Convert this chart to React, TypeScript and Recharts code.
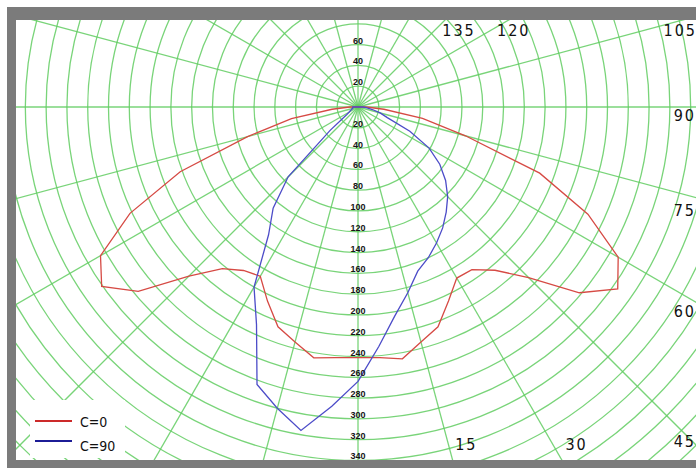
import React from 'react';
import { RadarChart, Radar, PolarGrid, PolarAngleAxis, PolarRadiusAxis, Legend } from 'recharts';

// gamma in degrees, 0 = straight down, 90 = horizontal
const gammaSteps = [0, 5, 10, 15, 20, 25, 30, 35, 40, 45, 50, 55, 60, 65, 70, 75, 80, 85, 90];

// candela values, per gamma step
const c0 = [241, 242, 246, 234, 225, 206, 190, 191, 205, 232, 278, 305, 289, 244, 186, 107, 63, 25, 8];
const c180 = [241, 242, 245, 234, 225, 206, 188, 192, 203, 230, 276, 301, 286, 242, 182, 110, 65, 25, 8];
const c90 = [264, 231, 204, 185, 168, 160, 151, 142, 132, 122, 110, 96, 79, 55, 30, 22, 14, 8, 5];
const c270 = [264, 289, 316, 300, 284, 231, 200, 150, 127, 95, 35, 14, 10, 8, 6, 6, 5, 5, 5];

const radiusTicks = [0, 20, 40, 60, 80, 100, 120, 140, 160, 180, 200, 220, 240, 260, 280, 300, 320, 340, 360, 380, 400, 420, 440, 460, 480];
const upTicks = [20, 40, 60];
const gridGammas = [0, 15, 30, 45, 60, 75, 90, 105, 120, 135, 150, 165, 180, 195, 210, 225, 240, 255, 270, 285, 300, 315, 330, 345];
const angleLabels = [15, 30, 45, 60, 75, 90, 105, 120, 135];

const legendItems = [
  { name: 'C=0', color: '#cc2a2a' },
  { name: 'C=90', color: '#1c1c96' },
];

// full turn in 5 degree steps; right half C0/C90, left half C180/C270
const data = Array.from({ length: 72 }, (_, i) => {
  const g = i * 5;
  let red = 0;
  let blue = 0;
  if (i < gammaSteps.length) {
    red = c0[i];
    blue = c90[i];
  } else if (i >= 72 - (gammaSteps.length - 1)) {
    red = c180[72 - i];
    blue = c270[72 - i];
  }
  return { gamma: g, red, blue };
});

const W = 680;
const H = 440;
const LEFT = 16;
const TOP = 20;
const CX = 342;
const CY = 87;
const MAXV = 480;
const OUTER = 499;

const tickFont = "'Liberation Sans', Arial, sans-serif";
const labelFont = "'Liberation Sans Narrow', 'DejaVu Sans Condensed', sans-serif";

const RadiusTick = (props: any) => {
  const { x, y, payload } = props;
  const v = payload?.value;
  if (!v || v > 340) return <g />;
  return (
    <text x={x} y={y - 1} textAnchor="middle" fontSize={9} fontWeight="bold"
      fontFamily={tickFont} fill="#151515">
      {v}
    </text>
  );
};

// where a radial line meets the frame, for the angle labels
const labelPos = (g: number) => {
  const s = Math.sin((g * Math.PI) / 180);
  const c = Math.cos((g * Math.PI) / 180);
  const px = LEFT + CX;
  const py = TOP + CY;
  const tR = s > 1e-6 ? (684 - px) / s : Infinity;
  const tB = c > 1e-6 ? (444 - py) / c : Infinity;
  const tT = c < -1e-6 ? (24 - py) / c : Infinity;
  const t = Math.min(tR, tB, tT);
  const x = px + t * s;
  const y = py + t * c;
  if (t === tB) return { x: x + 18 + (g > 20 ? 6 : 0), y, anchor: 'middle' };
  if (t === tT) {
    if (x + 18 > 680) return { x: 697, y: y + 6, anchor: 'end' };
    return { x: x + 18 - (g < 130 ? 6 : 0), y: y + 6, anchor: 'middle' };
  }
  return { x: 696, y: y + 8 + 9 * Math.sin((4 * (g - 45) * Math.PI) / 180), anchor: 'end' };
};

const LegendBox = () => (
  <div style={{ background: '#fff', width: 95, height: 58, position: 'relative' }}>
    {legendItems.map((it, i) => (
      <div key={it.name} style={{ position: 'absolute', left: 5, top: 14 + i * 20, display: 'flex', alignItems: 'center' }}>
        <div style={{ width: 37, height: 2, background: it.color }} />
        <span style={{ marginLeft: 8, fontFamily: labelFont, fontSize: 14, color: '#111', lineHeight: '14px', position: 'relative', top: i === 1 ? 5 : 1 }}>
          {it.name}
        </span>
      </div>
    ))}
  </div>
);

export default function App() {
  const unit = OUTER / MAXV;
  return (
    <div style={{ position: 'absolute', left: 0, top: 0, width: 696, height: 468, background: '#fff', overflow: 'hidden' }}>
      <div style={{ position: 'absolute', left: 7, top: 7, width: 700, height: 470, background: '#7b7b7b' }} />
      <div style={{ position: 'absolute', left: LEFT, top: TOP, width: W, height: H, background: '#fff', overflow: 'hidden' }}>
        <RadarChart width={W} height={H} data={data} cx={CX} cy={CY} outerRadius={OUTER}
          startAngle={-95} endAngle={265} margin={{ top: 0, right: 0, bottom: 0, left: 0 }}>
          <PolarGrid gridType="circle" polarAngles={gridGammas.map((g) => g - 90)}
            stroke="#62cc62" strokeOpacity={0.85} strokeWidth={1.3} />
          <PolarAngleAxis dataKey="gamma" tick={false} axisLine={false} tickLine={false} />
          <PolarRadiusAxis angle={-90} domain={[0, MAXV]} ticks={radiusTicks} axisLine={false}
            tick={RadiusTick} tickLine={false} />
          <Radar name="C=0" dataKey="red" stroke="#d64a44" strokeWidth={1.3} fill="none" fillOpacity={0}
            dot={false} isAnimationActive={false} />
          <Radar name="C=90" dataKey="blue" stroke="#4c4cc8" strokeWidth={1.3} fill="none" fillOpacity={0}
            dot={false} isAnimationActive={false} />
          <Legend content={() => <LegendBox />}
            wrapperStyle={{ left: 14, top: 380, width: 95, height: 58, bottom: 'auto' }} />
        </RadarChart>
      </div>
      <svg width={696} height={468} style={{ position: 'absolute', left: 0, top: 0, pointerEvents: 'none' }}>
        {upTicks.map((v) => (
          <text key={v} x={LEFT + CX} y={TOP + CY - v * unit - 1} textAnchor="middle" fontSize={9}
            fontWeight="bold" fontFamily={tickFont} fill="#151515">
            {v}
          </text>
        ))}
        {angleLabels.map((g) => {
          const p = labelPos(g);
          return (
            <text key={g} x={p.x} y={p.y} textAnchor={p.anchor as any} dominantBaseline="central"
              fontFamily={labelFont} fontSize={16} letterSpacing={2} fill="#111">
              {g}
            </text>
          );
        })}
      </svg>
    </div>
  );
}
